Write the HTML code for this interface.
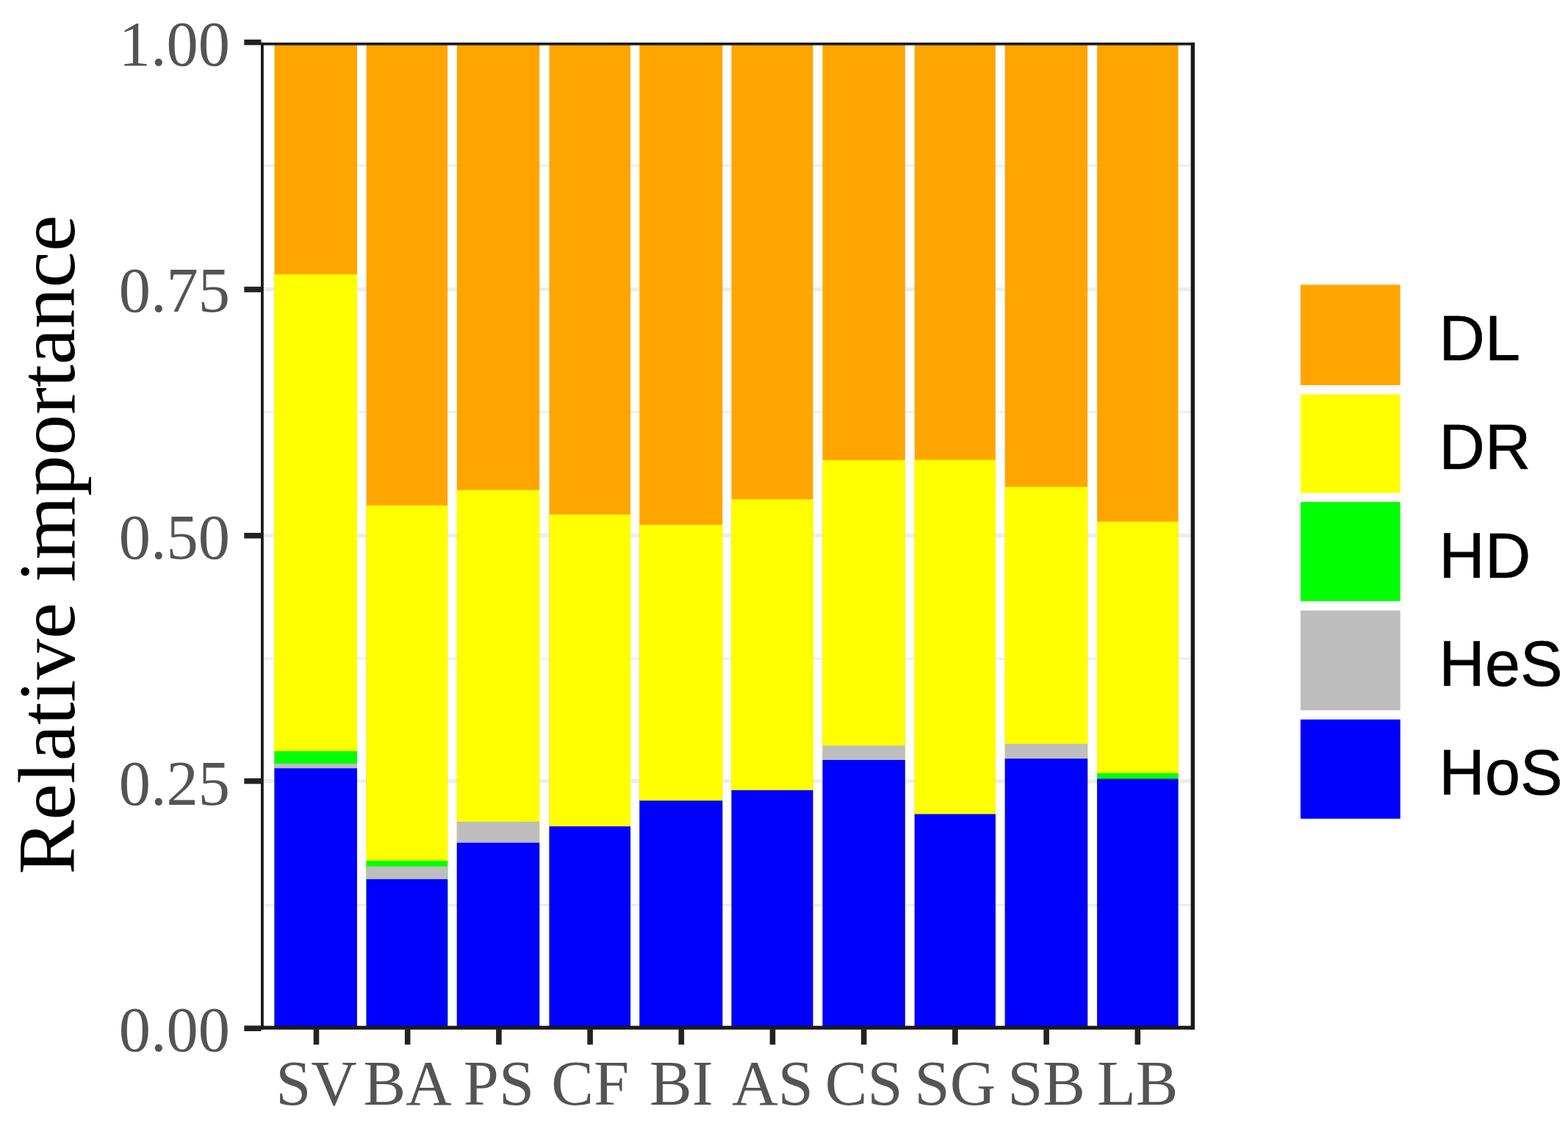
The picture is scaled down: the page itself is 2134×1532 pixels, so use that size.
<!DOCTYPE html>
<html lang="en"><head><meta charset="utf-8"><title>Relative importance</title>
<style>
html,body{margin:0;padding:0;background:#fff;}
body{width:2134px;height:1532px;overflow:hidden;}
svg{display:block;}
.ax{font-family:"Liberation Serif","Times New Roman",serif;font-size:86.5px;fill:#545454;}
.ttl{font-family:"Liberation Serif","Times New Roman",serif;font-size:111px;fill:#000;}
.lg{font-family:"Liberation Sans",Arial,sans-serif;font-size:86.3px;fill:#000;stroke:#000;stroke-width:0.6px;}
</style></head><body>
<svg width="2134" height="1532" viewBox="0 0 2134 1532">
<rect x="0" y="0" width="2134" height="1532" fill="#ffffff"/>
<g stroke="#EDEDED" fill="none">
<line x1="357.0" x2="1623.5" y1="1231.50" y2="1231.50" stroke-width="2.8"/>
<line x1="357.0" x2="1623.5" y1="1062.75" y2="1062.75" stroke-width="5.5"/>
<line x1="357.0" x2="1623.5" y1="896.10" y2="896.10" stroke-width="2.8"/>
<line x1="357.0" x2="1623.5" y1="728.75" y2="728.75" stroke-width="5.5"/>
<line x1="357.0" x2="1623.5" y1="560.70" y2="560.70" stroke-width="2.8"/>
<line x1="357.0" x2="1623.5" y1="393.85" y2="393.85" stroke-width="5.5"/>
<line x1="357.0" x2="1623.5" y1="225.30" y2="225.30" stroke-width="2.8"/>
</g>
<g stroke="none">
<rect x="373.5" y="59.4" width="112.5" height="1338.8" fill="#FFA500"/>
<rect x="373.5" y="373.2" width="112.5" height="1025.0" fill="#FFFF00"/>
<rect x="373.5" y="1022.0" width="112.5" height="376.2" fill="#00FF00"/>
<rect x="373.5" y="1039.0" width="112.5" height="359.2" fill="#BEBEBE"/>
<rect x="373.5" y="1045.3" width="112.5" height="352.9" fill="#0000FF"/>
<rect x="498.6" y="59.4" width="110.6" height="1338.8" fill="#FFA500"/>
<rect x="498.6" y="687.6" width="110.6" height="710.6" fill="#FFFF00"/>
<rect x="498.6" y="1171.0" width="110.6" height="227.2" fill="#00FF00"/>
<rect x="498.6" y="1178.9" width="110.6" height="219.3" fill="#BEBEBE"/>
<rect x="498.6" y="1196.2" width="110.6" height="202.0" fill="#0000FF"/>
<rect x="621.8" y="59.4" width="112.4" height="1338.8" fill="#FFA500"/>
<rect x="621.8" y="666.7" width="112.4" height="731.5" fill="#FFFF00"/>
<rect x="621.8" y="1118.0" width="112.4" height="280.2" fill="#BEBEBE"/>
<rect x="621.8" y="1146.6" width="112.4" height="251.6" fill="#0000FF"/>
<rect x="747.5" y="59.4" width="110.6" height="1338.8" fill="#FFA500"/>
<rect x="747.5" y="699.9" width="110.6" height="698.3" fill="#FFFF00"/>
<rect x="747.5" y="1124.3" width="110.6" height="273.9" fill="#0000FF"/>
<rect x="870.3" y="59.4" width="113.0" height="1338.8" fill="#FFA500"/>
<rect x="870.3" y="714.0" width="113.0" height="684.2" fill="#FFFF00"/>
<rect x="870.3" y="1089.3" width="113.0" height="308.9" fill="#0000FF"/>
<rect x="995.5" y="59.4" width="111.0" height="1338.8" fill="#FFA500"/>
<rect x="995.5" y="679.3" width="111.0" height="718.9" fill="#FFFF00"/>
<rect x="995.5" y="1075.1" width="111.0" height="323.1" fill="#0000FF"/>
<rect x="1119.5" y="59.4" width="112.3" height="1338.8" fill="#FFA500"/>
<rect x="1119.5" y="625.9" width="112.3" height="772.3" fill="#FFFF00"/>
<rect x="1119.5" y="1014.5" width="112.3" height="383.7" fill="#BEBEBE"/>
<rect x="1119.5" y="1034.0" width="112.3" height="364.2" fill="#0000FF"/>
<rect x="1244.7" y="59.4" width="110.2" height="1338.8" fill="#FFA500"/>
<rect x="1244.7" y="625.6" width="110.2" height="772.6" fill="#FFFF00"/>
<rect x="1244.7" y="1107.6" width="110.2" height="290.6" fill="#0000FF"/>
<rect x="1367.7" y="59.4" width="112.5" height="1338.8" fill="#FFA500"/>
<rect x="1367.7" y="662.4" width="112.5" height="735.8" fill="#FFFF00"/>
<rect x="1367.7" y="1012.0" width="112.5" height="386.2" fill="#BEBEBE"/>
<rect x="1367.7" y="1032.2" width="112.5" height="366.0" fill="#0000FF"/>
<rect x="1493.1" y="59.4" width="110.4" height="1338.8" fill="#FFA500"/>
<rect x="1493.1" y="709.7" width="110.4" height="688.5" fill="#FFFF00"/>
<rect x="1493.1" y="1051.8" width="110.4" height="346.4" fill="#00FF00"/>
<rect x="1493.1" y="1059.6" width="110.4" height="338.6" fill="#0000FF"/>
</g>
<g fill="#1a1a1a">
<rect x="355.0" y="57.9" width="3.8" height="1342.9"/>
<rect x="1620.6" y="57.9" width="5.4" height="1342.9"/>
<rect x="355.0" y="57.9" width="1271.0" height="3.7"/>
<rect x="355.0" y="1395.7" width="1271.0" height="5.1"/>
</g>
<g stroke="#222222" stroke-width="7.6" fill="none">
<line x1="332.3" x2="355.5" y1="57.6" y2="57.6"/>
<line x1="332.3" x2="355.5" y1="393.85" y2="393.85"/>
<line x1="332.3" x2="355.5" y1="728.75" y2="728.75"/>
<line x1="332.3" x2="355.5" y1="1062.75" y2="1062.75"/>
<line x1="332.3" x2="355.5" y1="1399.2" y2="1399.2"/>
<line x1="430.5" x2="430.5" y1="1399" y2="1421.3"/>
<line x1="554.7" x2="554.7" y1="1399" y2="1421.3"/>
<line x1="678.9" x2="678.9" y1="1399" y2="1421.3"/>
<line x1="803.1" x2="803.1" y1="1399" y2="1421.3"/>
<line x1="927.3" x2="927.3" y1="1399" y2="1421.3"/>
<line x1="1051.5" x2="1051.5" y1="1399" y2="1421.3"/>
<line x1="1175.7" x2="1175.7" y1="1399" y2="1421.3"/>
<line x1="1299.9" x2="1299.9" y1="1399" y2="1421.3"/>
<line x1="1424.1" x2="1424.1" y1="1399" y2="1421.3"/>
<line x1="1548.3" x2="1548.3" y1="1399" y2="1421.3"/>
</g>
<g class="ax" text-anchor="end">
<text x="313" y="89.3">1.00</text>
<text x="313" y="424.4">0.75</text>
<text x="313" y="759.5">0.50</text>
<text x="313" y="1094.7">0.25</text>
<text x="313" y="1429.8">0.00</text>
</g>
<g class="ax" text-anchor="middle">
<text x="430.5" y="1502.6">SV</text>
<text x="554.7" y="1502.6">BA</text>
<text x="678.9" y="1502.6">PS</text>
<text x="803.1" y="1502.6">CF</text>
<text x="927.3" y="1502.6">BI</text>
<text x="1051.5" y="1502.6">AS</text>
<text x="1175.7" y="1502.6">CS</text>
<text x="1299.9" y="1502.6">SG</text>
<text x="1424.1" y="1502.6">SB</text>
<text x="1548.3" y="1502.6">LB</text>
</g>
<text class="ttl" text-anchor="middle" transform="translate(100.7 741.3) rotate(-90)">Relative importance</text>
<rect x="1770" y="387.4" width="135.8" height="136.6" fill="#FFA500"/>
<text class="lg" transform="translate(1958.6 490.3) scale(1 1.012)">DL</text>
<rect x="1770" y="536.5" width="135.8" height="134.2" fill="#FFFF00"/>
<text class="lg" transform="translate(1958.6 637.9) scale(1 1.012)">DR</text>
<rect x="1770" y="683.0" width="135.8" height="134.8" fill="#00FF00"/>
<text class="lg" transform="translate(1958.6 785.5) scale(1 1.012)">HD</text>
<rect x="1770" y="830.6" width="135.8" height="135.8" fill="#BEBEBE"/>
<text class="lg" transform="translate(1958.6 933.1) scale(1 1.012)">HeS</text>
<rect x="1770" y="978.9" width="135.8" height="135.0" fill="#0000FF"/>
<text class="lg" transform="translate(1958.6 1080.7) scale(1 1.012)">HoS</text>
</svg>
</body></html>
